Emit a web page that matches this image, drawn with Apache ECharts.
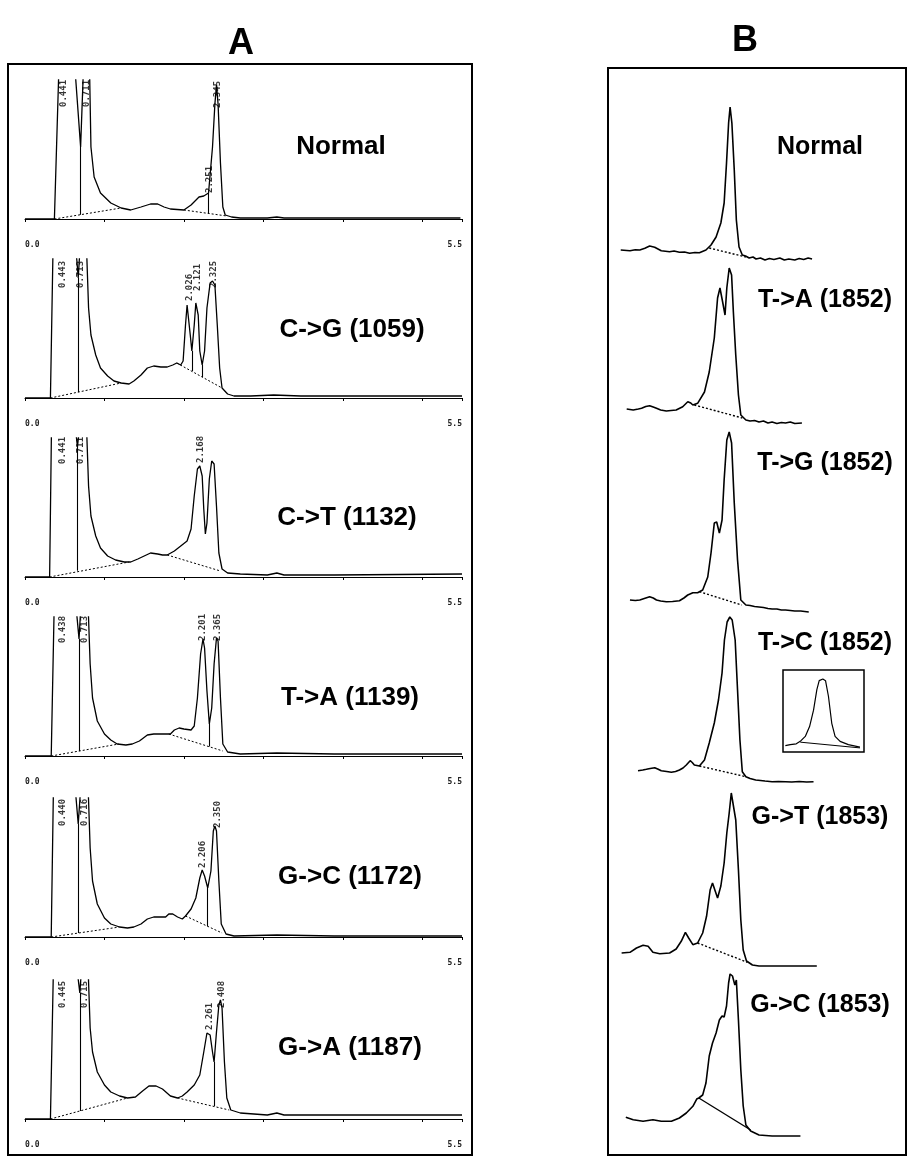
<!DOCTYPE html>
<html>
<head>
<meta charset="UTF-8">
<script src="https://cdn.jsdelivr.net/npm/echarts@6/dist/echarts.min.js"></script>
<style>
  html, body { margin: 0; padding: 0; background: #fff; }
  #main { width: 908px; height: 1162px; }
</style>
</head>
<body>
<div id="main"></div>
<script>
// ---- panel A: HPLC traces, x = retention time (min), y = height above baseline
var namesA = ['Normal', 'C->G (1059)', 'C->T (1132)', 'T->A (1139)', 'G->C (1172)', 'G->A (1187)'];
var ticksA = ['0.0', '5.5'];

var traceA0 = [[0,0],[0.37,0],[0.43,160],[0.62,160],[0.70,72],[0.74,160],[0.81,160],[0.83,72],[0.87,42],[0.95,26],[1.08,16],[1.21,11],[1.33,9],[1.46,12],[1.58,15],[1.67,15],[1.75,12],[1.83,10],[2.00,9],[2.09,14],[2.19,22],[2.25,23],[2.31,26],[2.36,72],[2.39,115],[2.41,134],[2.43,115],[2.46,56],[2.49,12],[2.52,4],[2.60,2],[2.71,1],[3.05,1],[3.17,2],[3.26,1],[5.48,1]];
var traceA1 = [[0,0],[0.32,0],[0.355,160],[0.63,160],[0.67,120],[0.70,160],[0.77,160],[0.80,90],[0.83,63],[0.89,43],[0.95,30],[1.04,22],[1.12,17],[1.21,15],[1.31,14],[1.37,17],[1.46,23],[1.54,30],[1.62,32],[1.71,31],[1.79,31],[1.86,33],[1.91,35],[1.96,33],[1.99,37],[2.02,73],[2.04,93],[2.06,92],[2.08,63],[2.10,47],[2.13,73],[2.15,95],[2.18,83],[2.20,47],[2.23,33],[2.26,47],[2.29,90],[2.33,115],[2.36,117],[2.39,113],[2.42,73],[2.45,30],[2.48,10],[2.55,4],[2.63,2],[2.84,2],[3.13,3],[3.47,2],[3.89,2],[5.50,2]];
var traceA2 = [[0,0],[0.31,0],[0.335,160],[0.62,160],[0.66,130],[0.70,160],[0.77,160],[0.80,91],[0.83,61],[0.89,41],[0.95,29],[1.04,21],[1.14,17],[1.25,15],[1.33,15],[1.42,18],[1.50,21],[1.58,24],[1.67,23],[1.73,22],[1.79,22],[1.88,26],[1.96,31],[2.04,36],[2.09,48],[2.13,81],[2.17,108],[2.20,111],[2.23,101],[2.25,68],[2.27,43],[2.29,54],[2.32,98],[2.35,116],[2.38,113],[2.41,71],[2.44,24],[2.48,8],[2.55,4],[2.71,3],[3.05,2],[3.17,4],[3.26,2],[3.89,2],[5.50,3]];
var traceA3 = [[0,0],[0.33,0],[0.37,160],[0.63,160],[0.68,117],[0.71,160],[0.79,160],[0.82,92],[0.85,58],[0.91,35],[1.00,22],[1.08,16],[1.16,12],[1.27,11],[1.35,12],[1.44,15],[1.54,21],[1.62,22],[1.71,22],[1.79,22],[1.83,22],[1.88,26],[1.94,28],[2.00,27],[2.09,26],[2.13,30],[2.17,58],[2.21,102],[2.24,117],[2.26,108],[2.29,65],[2.32,32],[2.35,48],[2.38,92],[2.41,118],[2.43,115],[2.46,58],[2.49,12],[2.55,4],[2.71,2],[3.17,3],[3.89,2],[5.50,2]];
var traceA4 = [[0,0],[0.33,0],[0.36,160],[0.62,160],[0.67,113],[0.71,160],[0.79,160],[0.82,89],[0.85,56],[0.91,33],[1.00,19],[1.08,13],[1.19,10],[1.29,9],[1.37,10],[1.46,13],[1.54,18],[1.62,20],[1.71,20],[1.77,20],[1.81,23],[1.86,23],[1.92,20],[1.98,18],[2.02,21],[2.09,28],[2.15,39],[2.20,59],[2.23,67],[2.26,61],[2.30,49],[2.34,66],[2.37,106],[2.39,111],[2.41,106],[2.44,56],[2.47,13],[2.53,3],[2.63,1],[3.17,2],[3.89,1],[5.50,1]];
var traceA5 = [[0,0],[0.32,0],[0.36,160],[0.64,160],[0.69,126],[0.72,160],[0.79,160],[0.82,91],[0.85,67],[0.91,47],[1.00,34],[1.08,27],[1.19,23],[1.29,21],[1.39,22],[1.48,28],[1.56,33],[1.65,33],[1.73,30],[1.83,23],[1.92,21],[1.98,23],[2.04,27],[2.13,34],[2.20,44],[2.25,67],[2.29,86],[2.33,84],[2.36,67],[2.38,57],[2.41,87],[2.44,114],[2.46,119],[2.48,111],[2.51,57],[2.54,21],[2.59,9],[2.71,6],[3.05,4],[3.17,6],[3.26,4],[3.89,4],[5.50,4]];

// integration baselines (dotted) and drop lines [t, top, bottom]
var baseA = [
  [[[0.37,0],[1.21,11]], [[2.00,9],[2.54,3]]],
  [[[0.32,0],[1.21,15]], [[1.91,35],[2.48,10]]],
  [[[0.31,0],[1.31,15]], [[1.79,22],[2.46,6]]],
  [[[0.33,0],[1.18,12]], [[1.81,22],[2.49,5]]],
  [[[0.33,0],[1.19,10]], [[2.02,21],[2.48,4]]],
  [[[0.32,0],[1.29,21]], [[1.92,21],[2.57,9]]]
];
var dropA = [
  [[0.70,72,4.2],[2.31,26,5.6]],
  [[0.67,120,5.9],[2.10,47,27],[2.23,33,21]],
  [[0.66,130,6.3]],
  [[0.68,117,4.9],[2.32,32,9.5]],
  [[0.67,113,4],[2.30,49,10.7]],
  [[0.69,126,8],[2.38,57,13]]
];
// peak retention-time labels [t, bottom of text, text]
var peakA = [
  [[0.49,112,'0.441'],[0.77,112,'0.711'],[2.32,26,'2.251'],[2.43,111,'2.345']],
  [[0.47,110,'0.443'],[0.70,110,'0.713'],[2.07,97,'2.026'],[2.17,107,'2.121'],[2.38,110,'2.325']],
  [[0.47,113,'0.441'],[0.70,113,'0.711'],[2.21,114,'2.168']],
  [[0.47,113,'0.438'],[0.745,113,'0.713'],[2.24,115,'2.201'],[2.43,115,'2.365']],
  [[0.47,111,'0.440'],[0.745,111,'0.716'],[2.24,69,'2.206'],[2.42,109,'2.350']],
  [[0.47,111,'0.445'],[0.745,111,'0.715'],[2.32,89,'2.261'],[2.47,111,'2.408']]
];

// ---- panel B
var namesB = ['Normal', 'T->A (1852)', 'T->G (1852)', 'T->C (1852)', 'G->T (1853)', 'G->C (1853)'];
var traceB0 = [[3.6,0],[6.7,-0.7],[8.5,0.3],[10,0],[11.7,1.7],[13.3,4],[15,2.7],[17.2,-0.7],[20,-1.7],[21.5,-1],[23.3,-2.3],[25,-2],[26.7,-3.3],[28.5,-2.5],[30,-2.7],[32.2,0],[33.9,5],[35.6,13],[37.2,27],[38.3,47],[39.1,87],[39.8,127],[40.3,143],[40.9,127],[41.7,80],[42.4,30],[43.3,3],[44.4,-5],[45.5,-6],[46.7,-8],[48,-7],[49,-9],[50.5,-8],[52,-10],[53.5,-8.5],[55,-9.5],[57,-8],[58.5,-10],[60,-9],[62,-10],[63.5,-8.5],[65,-9.5],[66.5,-8],[67.8,-9]];
var traceB1 = [[5.6,0],[7.8,-1],[9.5,0],[10.6,0.7],[12,2.5],[13.3,3.3],[14.5,2],[15.6,0.7],[17,-1],[18.9,-2],[20.5,-1.5],[22.2,-1],[24.4,2.3],[26.1,7.3],[27.1,6],[27.8,4],[29.4,5.7],[31.7,17],[33.3,37],[35,71],[36.1,111],[36.9,121],[37.8,107],[38.6,94],[39.2,121],[40,141],[40.8,134],[41.4,97],[42.2,54],[43.1,14],[43.9,-6],[45.6,-11],[47,-12],[48.5,-11.5],[50,-13],[51.5,-12],[53,-14],[54.4,-13],[56,-14.5],[57.5,-13.5],[58.9,-14],[60.5,-13],[62,-14.5],[64.4,-14]];
var traceB2 = [[6.7,0],[8.5,-0.5],[10,0],[11.5,1.5],[13.3,3.3],[14.5,2],[15.6,0],[17,-1],[18.9,-1.7],[21,-1.5],[23.3,-0.7],[24.8,2],[26.1,5],[27.8,7.3],[29.4,7.3],[31.1,10],[32.8,23],[33.9,47],[35,77],[35.8,78],[36.7,67],[37.6,80],[38.3,120],[39.2,160],[40,168],[40.8,157],[41.7,97],[42.8,40],[43.9,0],[45.6,-5],[47,-5.5],[48.5,-6.5],[50,-7],[51.5,-7.5],[53,-8.5],[54.4,-9],[56,-9],[57.5,-10],[58.9,-10],[60.5,-10.5],[62,-11],[64,-11],[66.7,-12]];
var traceB3 = [[9.4,-0.7],[11,0],[12.2,0.7],[13.5,1.5],[15,2.3],[16,1],[17.2,-0.7],[19,-1.5],[20.6,-2.3],[22,-1.5],[23.3,0],[24.5,2],[25.6,5],[26.9,9.3],[27.6,7.5],[28.3,5],[30,4],[31.7,10],[33.3,27],[35,47],[36.4,70],[37.6,97],[38.4,130],[39.3,148],[40.2,153],[41,150],[42,130],[42.8,80],[43.6,30],[44.4,-1.7],[45.6,-6.7],[47,-8.5],[48.9,-10],[50.5,-10.5],[52,-11],[54.4,-11.7],[56.5,-11.5],[58.9,-11.7],[61,-12],[63.5,-11.5],[66,-12],[68.3,-11.7]];
var traceB4 = [[3.9,0],[6.7,0.7],[8.9,5],[11.1,7.7],[12.8,6.7],[14.4,0.7],[16.7,-0.7],[20,0],[22.2,4],[23.9,11.7],[25.3,20.7],[26.4,15],[27.8,8.3],[29.4,10],[31.1,20],[32.4,36.7],[33.6,63],[34.4,70],[35.3,62],[36.1,55],[37.2,67],[38.3,90],[39.2,120],[40,140],[40.7,160],[41.3,160],[42.2,133],[43.1,83],[43.9,33],[44.7,3],[45.8,-8],[47.8,-12],[50,-13],[54,-13],[58.9,-13],[64,-13],[69.4,-13]];
var traceB5 = [[5.3,0.7],[7.8,-1.7],[11.1,-3.3],[14.4,-1.7],[17.2,-3.3],[20.6,-3.3],[23.3,0],[25.6,5],[27.8,11.7],[29.1,19],[29.8,20],[31.1,23],[32.2,35],[33.3,62],[34.4,75],[35.6,85],[36.7,98],[37.6,102],[38.3,101],[39.1,112],[39.8,135],[40.3,144],[41.1,142],[41.9,133],[42.4,138],[43.1,98],[43.9,48],[44.7,12],[45.6,-7],[47.2,-13],[50,-17],[54.4,-18],[58,-18],[63.9,-18]];
var baseB = [
  [[33.3,2],[45.6,-7]],
  [[28.3,4],[44.4,-9]],
  [[30,8.3],[44.2,-5]],
  [[30,4],[45.6,-6.7]],
  [[29.4,10],[46.1,-9.3]],
  [[29.8,20],[47.2,-12]]
];
// inset in T->C row
var traceInset = [[2.9,7.7],[9,9],[16.4,10],[21.3,13],[27.5,19],[32.8,31],[37.7,51],[41.8,76],[44.7,87],[49.2,89],[52.5,87],[56.1,68],[60.2,35],[64.3,19],[70.5,13],[80.7,9],[95,6]];
var baseInset = [[21.3,12],[95,5]];

var tracesA = [traceA0, traceA1, traceA2, traceA3, traceA4, traceA5];
var tracesB = [traceB0, traceB1, traceB2, traceB3, traceB4, traceB5];

// layout (pixels)
var axisYA = [237, 416, 595, 774, 955, 1137];
var nameA = [[341,147],[352,330],[347,518],[350,698],[350,877],[350,1048]];
var refB = [250, 409, 600, 770, 953, 1118];
var nameB = [[820,147],[825,300],[825,463],[825,643],[820,817],[820,1005]];

var INK = '#000';
var grids = [], xAxes = [], yAxes = [], series = [], graphics = [];

tracesA.forEach(function (tr, i) {
  grids.push({ left: 25, width: 437, top: axisYA[i] - 157, height: 157 });
  xAxes.push({
    gridIndex: i, type: 'value', min: 0, max: 5.5, interval: 1,
    axisLine: { lineStyle: { color: INK, width: 1 } },
    axisTick: { length: 3, lineStyle: { color: INK } },
    splitLine: { show: false },
    axisLabel: {
      margin: 4, fontSize: 8, fontWeight: 'bold', fontFamily: 'DejaVu Sans Mono', color: '#222',
      showMinLabel: true, showMaxLabel: true,
      alignMinLabel: 'left', alignMaxLabel: 'right',
      formatter: function (v) { return v === 0 ? ticksA[0] : (v === 5.5 ? ticksA[1] : ''); }
    }
  });
  yAxes.push({ gridIndex: i, type: 'value', min: -18, max: 139, show: false });

  var ml = [];
  baseA[i].forEach(function (b) {
    ml.push([{ coord: b[0], lineStyle: { type: [2, 2], width: 1, color: INK } }, { coord: b[1] }]);
  });
  dropA[i].forEach(function (d) {
    ml.push([{ coord: [d[0], d[1]], lineStyle: { type: 'solid', width: 1.1, color: INK } }, { coord: [d[0], d[2]] }]);
  });
  series.push({
    type: 'line', xAxisIndex: i, yAxisIndex: i, data: tr, symbol: 'none',
    lineStyle: { color: INK, width: 1.3 }, clip: true, animation: false,
    markLine: { silent: true, symbol: 'none', animation: false, label: { show: false }, data: ml }
  });
  series.push({
    type: 'scatter', xAxisIndex: i, yAxisIndex: i, symbolSize: 1, animation: false,
    itemStyle: { color: 'rgba(0,0,0,0)' },
    data: peakA[i].map(function (p) { return { value: [p[0], p[1]], name: p[2] }; }),
    label: {
      show: true, formatter: '{b}', rotate: 90, position: 'inside',
      align: 'left', verticalAlign: 'middle',
      fontFamily: 'DejaVu Sans Mono', fontSize: 9, fontWeight: 'bold', color: INK
    }
  });
  graphics.push({
    type: 'text', x: nameA[i][0], y: nameA[i][1],
    style: { text: namesA[i], font: 'bold 26px "Liberation Sans", Arial, sans-serif', fill: '#000', textAlign: 'center', textVerticalAlign: 'middle' }
  });
});

tracesB.forEach(function (tr, j) {
  var g = grids.length;
  grids.push({ left: 610, width: 300, top: refB[j] - 180, height: 200 });
  xAxes.push({ gridIndex: g, type: 'value', min: 0, max: 100, show: false });
  yAxes.push({ gridIndex: g, type: 'value', min: -20, max: 180, show: false });
  series.push({
    type: 'line', xAxisIndex: g, yAxisIndex: g, data: tr, symbol: 'none',
    lineStyle: { color: INK, width: 1.6 }, animation: false,
    markLine: {
      silent: true, symbol: 'none', animation: false, label: { show: false },
      data: [[{ coord: baseB[j][0], lineStyle: { type: j === 5 ? 'solid' : [2, 2], width: 1.4, color: INK } }, { coord: baseB[j][1] }]]
    }
  });
  graphics.push({
    type: 'text', x: nameB[j][0], y: nameB[j][1],
    style: { text: namesB[j], font: 'bold 25px "Liberation Sans", Arial, sans-serif', fill: '#000', textAlign: 'center', textVerticalAlign: 'middle' }
  });
});

// inset box
var gi = grids.length;
grids.push({ left: 783, top: 670, width: 81, height: 82, show: true, borderColor: INK, borderWidth: 1.5, backgroundColor: '#fff' });
xAxes.push({ gridIndex: gi, type: 'value', min: 0, max: 100, show: false });
yAxes.push({ gridIndex: gi, type: 'value', min: 0, max: 100, show: false });
series.push({
  type: 'line', xAxisIndex: gi, yAxisIndex: gi, data: traceInset, symbol: 'none',
  lineStyle: { color: INK, width: 1.2 }, animation: false,
  markLine: {
    silent: true, symbol: 'none', animation: false, label: { show: false },
    data: [[{ coord: baseInset[0], lineStyle: { type: 'solid', width: 1, color: INK } }, { coord: baseInset[1] }]]
  }
});

// panel frames and letters
graphics.push(
  { type: 'rect', shape: { x: 8, y: 64, width: 464, height: 1091 }, style: { fill: 'none', stroke: INK, lineWidth: 2 }, z: -1 },
  { type: 'rect', shape: { x: 608, y: 68, width: 298, height: 1087 }, style: { fill: 'none', stroke: INK, lineWidth: 2 }, z: -1 },
  { type: 'text', x: 241, y: 44, style: { text: 'A', font: 'bold 36px "Liberation Sans", Arial, sans-serif', fill: '#000', textAlign: 'center', textVerticalAlign: 'middle' } },
  { type: 'text', x: 745, y: 41, style: { text: 'B', font: 'bold 36px "Liberation Sans", Arial, sans-serif', fill: '#000', textAlign: 'center', textVerticalAlign: 'middle' } }
);

var chart = echarts.init(document.getElementById('main'), null, { renderer: 'canvas' });
chart.setOption({
  animation: false,
  backgroundColor: '#fff',
  grid: grids,
  xAxis: xAxes,
  yAxis: yAxes,
  series: series,
  graphic: graphics
});
</script>
</body>
</html>
